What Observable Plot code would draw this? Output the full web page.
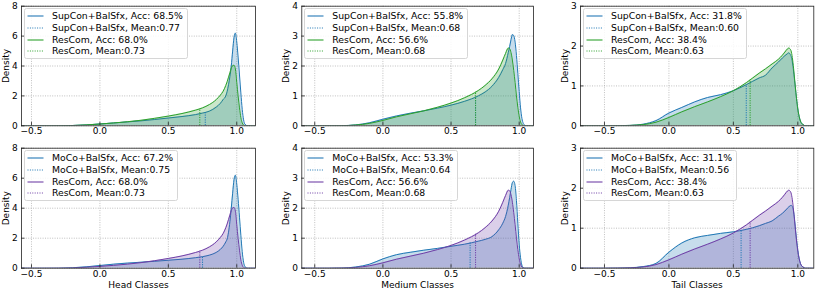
<!DOCTYPE html>
<html><head><meta charset="utf-8">
<script src="https://cdn.jsdelivr.net/npm/d3@7"></script>
<script src="https://cdn.jsdelivr.net/npm/@observablehq/plot@0.6"></script>
<style>
body{margin:0;background:#fff;}
#root{position:relative;width:816px;height:292px;overflow:hidden;font-family:"DejaVu Sans",sans-serif;background:#fff;}
.panel{position:absolute;width:272px;height:146px;}
.panel > svg{position:absolute;left:0;top:0;}
.legend{position:absolute;background:rgba(255,255,255,0.85);border:1px solid #d6d6d6;border-radius:2.5px;padding:1px 4px 0.5px 2px;font-size:9.3px;line-height:11.7px;color:#000;white-space:nowrap;}
.legend .row{display:flex;align-items:center;height:11.7px;}
.legend .row svg{flex:none;margin-right:8px;}
</style>
</head><body>
<div id="root"></div>
<script>
// ---- data ----
const grid = [-0.7,-0.5,-0.4,-0.3,-0.2,-0.1,0.0,0.1,0.2,0.3,0.4,0.5,0.6,0.7,0.75,0.8,0.85,0.88,0.9,0.92,0.93,0.94,0.95,0.96,0.97,0.98,0.99,1.0,1.01,1.02,1.03,1.04,1.05,1.06,1.08,1.15];

const headSupCon = [0,0,0,0.005,0.02,0.06,0.12,0.19,0.26,0.33,0.42,0.52,0.62,0.75,0.85,0.98,1.25,1.5,1.75,2.0,2.3,2.75,3.3,4.0,5.0,5.9,6.2,5.6,4.6,3.4,2.2,1.1,0.4,0.1,0,0];
const headMoCo   = [0,0,0,0.005,0.03,0.09,0.18,0.27,0.34,0.4,0.46,0.53,0.6,0.7,0.77,0.87,1.05,1.25,1.45,1.75,1.95,2.4,3.1,4.0,5.0,5.9,6.2,5.6,4.6,3.4,2.2,1.1,0.4,0.1,0,0];
const headResCom = [0,0,0,0.005,0.02,0.06,0.12,0.19,0.27,0.37,0.5,0.65,0.82,1.05,1.2,1.42,1.75,2.05,2.3,2.7,2.95,3.25,3.55,3.85,4.02,4.05,3.8,2.9,2.0,1.2,0.55,0.2,0.05,0.01,0,0];

const medSupCon  = [0,0,0,0.005,0.03,0.1,0.22,0.33,0.42,0.5,0.59,0.69,0.82,1.0,1.13,1.32,1.62,1.88,2.08,2.45,2.65,2.88,3.05,3.02,2.8,2.35,1.75,1.15,0.6,0.25,0.08,0.02,0,0,0,0];
const medMoCo    = [0,0,0,0.005,0.04,0.13,0.31,0.45,0.53,0.6,0.66,0.73,0.8,0.9,0.96,1.05,1.28,1.5,1.72,2.1,2.35,2.62,2.85,2.9,2.75,2.25,1.5,0.8,0.35,0.1,0.02,0,0,0,0,0];
const medResCom  = [0,0,0,0.005,0.025,0.08,0.18,0.3,0.4,0.5,0.62,0.76,0.94,1.18,1.35,1.57,1.9,2.2,2.42,2.6,2.58,2.45,2.2,1.85,1.45,1.0,0.62,0.32,0.13,0.04,0.01,0,0,0,0,0];

const tailSupCon = [0,0,0.003,0.01,0.04,0.13,0.32,0.46,0.6,0.71,0.78,0.88,1.03,1.2,1.27,1.45,1.6,1.7,1.76,1.81,1.83,1.8,1.72,1.55,1.28,0.98,0.68,0.42,0.24,0.12,0.06,0.03,0.01,0,0,0];
const tailMoCo   = [0,0,0.003,0.01,0.04,0.12,0.4,0.63,0.76,0.82,0.87,0.91,0.97,1.06,1.12,1.18,1.3,1.37,1.43,1.5,1.53,1.56,1.57,1.52,1.35,1.05,0.72,0.45,0.25,0.12,0.06,0.03,0.01,0,0,0];
const tailResCom = [0,0,0.002,0.01,0.03,0.09,0.21,0.35,0.48,0.6,0.73,0.88,1.08,1.32,1.43,1.55,1.67,1.77,1.85,1.93,1.95,1.93,1.85,1.65,1.35,1.0,0.68,0.42,0.24,0.12,0.06,0.03,0.01,0,0,0];

const classGroups = ["Head Classes","Medium Classes","Tail Classes"];
const nameSupCon = "SupCon+BalSfx", nameMoCo = "MoCo+BalSfx", nameResCom = "ResCom";
const accSupCon = ["68.5%","55.8%","31.8%"], meanSupCon = [0.77,0.68,0.60];
const accMoCo   = ["67.2%","53.3%","31.1%"], meanMoCo   = [0.75,0.64,0.56];
const accResCom = ["68.0%","56.6%","38.4%"], meanResCom = [0.73,0.68,0.63];

const xDomains = [[-0.573,1.137],[-0.595,1.105],[-0.686,1.124]];
const yDomains = [[0,8],[0,4],[0,3]];
const xTicks = [-0.5,0,0.5,1.0];
const yTicks = [[0,2,4,6,8],[0,1,2,3,4],[0,1,2,3]];

const supconByGroup = [headSupCon, medSupCon, tailSupCon];
const mocoByGroup = [headMoCo, medMoCo, tailMoCo];
const rescomByGroup = [headResCom, medResCom, tailResCom];

// ---- styles ----
const BLUE = "#1f77b4", GREEN = "#2ca02c", PURPLE = "#6e3ea6";
const W = 272, H = 146;
const mLeft = [21, 29.3, 36], mRight = [17, 11, 2.7];
const mTop = [5.7, 1.7], mBottom = [20.7, 24.3];

function interp(vals, x) {
  for (let i = 0; i < grid.length - 1; i++) {
    if (x >= grid[i] && x <= grid[i+1]) {
      const t = (x - grid[i]) / (grid[i+1] - grid[i]);
      return vals[i] + t * (vals[i+1] - vals[i]);
    }
  }
  return 0;
}
const fmtX = d => (d < 0 ? "\u2212" : "") + Math.abs(d).toFixed(1);

function makePanel(row, col) {
  const series = row === 0
    ? [{name: nameSupCon, vals: supconByGroup[col], color: BLUE, acc: accSupCon[col], mean: meanSupCon[col]},
       {name: nameResCom, vals: rescomByGroup[col], color: GREEN, acc: accResCom[col], mean: meanResCom[col]}]
    : [{name: nameMoCo, vals: mocoByGroup[col], color: BLUE, acc: accMoCo[col], mean: meanMoCo[col]},
       {name: nameResCom, vals: rescomByGroup[col], color: PURPLE, acc: accResCom[col], mean: meanResCom[col]}];
  const innerW = W - mLeft[col] - mRight[col];
  const innerH = H - mTop[row] - mBottom[row];
  const gridStyle = {stroke: "#b0b0b0", strokeOpacity: 1, strokeWidth: 0.8, strokeDasharray: "1,1.4"};
  const marks = [
    Plot.gridX({ticks: xTicks, ...gridStyle}),
    Plot.gridY({ticks: yTicks[col], ...gridStyle})
  ];
  for (const s of series) {
    const data = grid.map((x, i) => ({x, y: s.vals[i]}));
    marks.push(Plot.areaY(data, {x: "x", y: "y", fill: s.color, fillOpacity: 0.25, curve: "monotone-x", clip: true}));
    marks.push(Plot.lineY(data, {x: "x", y: "y", stroke: s.color, strokeWidth: 1, curve: "monotone-x", clip: true}));
  }
  for (const s of series) {
    marks.push(Plot.ruleX([s.mean], {x: d => d, y1: 0, y2: interp(s.vals, s.mean), stroke: s.color, strokeWidth: 1, strokeDasharray: "1.2,1.2"}));
  }
  marks.push(Plot.frame({stroke: "#222", strokeWidth: 0.8}));
  marks.push(Plot.tickX(xTicks, {x: d => d, insetTop: innerH - 3.5, stroke: "#222", strokeWidth: 0.8}));
  marks.push(Plot.tickY(yTicks[col], {y: d => d, insetRight: innerW - 3.5, stroke: "#222", strokeWidth: 0.8}));
  marks.push(Plot.axisX({ticks: xTicks, tickSize: 0, tickPadding: 2, tickFormat: fmtX, label: null}));
  marks.push(Plot.axisY({ticks: yTicks[col], tickSize: 0, tickPadding: 3.7, tickFormat: d => String(d), label: null}));
  marks.push(Plot.text(["Density"], {text: d => d, frameAnchor: "left", rotate: -90, dx: -15.3, textAnchor: "middle", lineAnchor: "middle", fontSize: 9}));
  if (row === 1) {
    marks.push(Plot.text([classGroups[col]], {text: d => d, frameAnchor: "bottom", dy: 16.8, lineAnchor: "middle", fontSize: 9}));
  }
  const svg = Plot.plot({
    width: W, height: H,
    marginLeft: mLeft[col], marginRight: mRight[col], marginTop: mTop[row], marginBottom: mBottom[row],
    x: {domain: xDomains[col]},
    y: {domain: yDomains[col]},
    style: {fontFamily: "DejaVu Sans, sans-serif", fontSize: "9px", color: "#000", background: "transparent", overflow: "visible"},
    marks
  });
  const div = document.createElement("div");
  div.className = "panel";
  div.style.left = (col * W) + "px";
  div.style.top = (row * H) + "px";
  div.appendChild(svg);

  // legend
  const lg = document.createElement("div");
  lg.className = "legend";
  lg.style.left = (mLeft[col] + 3) + "px";
  lg.style.top = (mTop[row] + 2.6) + "px";
  const entries = [];
  for (const s of series) {
    entries.push({label: `${s.name}, Acc: ${s.acc}`, color: s.color, dashed: false});
    entries.push({label: `${s.name}, Mean:${s.mean.toFixed(2)}`, color: s.color, dashed: true});
  }
  for (const e of entries) {
    const r = document.createElement("div");
    r.className = "row";
    const dash = e.dashed ? 'stroke-dasharray="1,1.4" stroke-width="1" stroke-opacity="1"' : 'stroke-width="1.8" stroke-opacity="0.6"';
    r.innerHTML = `<svg width="17" height="4"><line x1="0.5" x2="16.5" y1="2" y2="2" stroke="${e.color}" ${dash}/></svg><span>${e.label}</span>`;
    lg.appendChild(r);
  }
  div.appendChild(lg);
  return div;
}

const root = document.getElementById("root");
for (let row = 0; row < 2; row++) for (let col = 0; col < 3; col++) root.appendChild(makePanel(row, col));
</script>
</body></html>
